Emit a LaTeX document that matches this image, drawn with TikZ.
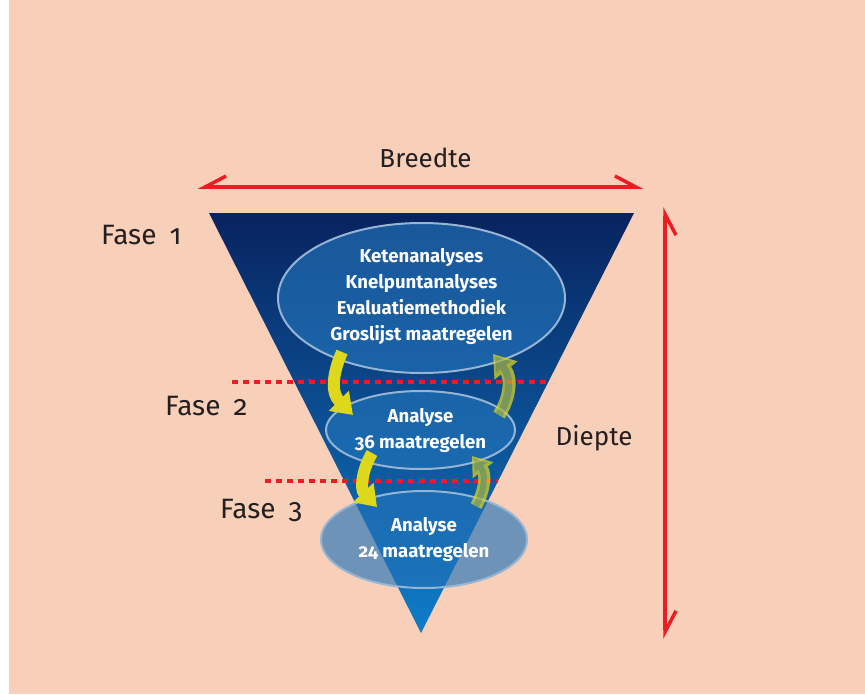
\documentclass[tikz,border=0pt]{standalone}
\usepackage{fontspec}
\setmainfont{Fira Sans}[Numbers=OldStyle]
\usepackage{tikz}
\usetikzlibrary{shapes.geometric,arrows.meta}

\definecolor{peach}{RGB}{248,207,184}
\definecolor{navy}{RGB}{8,35,95}
\definecolor{helder}{RGB}{15,125,200}
\definecolor{rood}{RGB}{237,28,36}
\definecolor{geel}{RGB}{222,216,28}
\definecolor{olijf}{RGB}{166,180,71}
\definecolor{rand}{RGB}{150,180,212}
\definecolor{vulling}{RGB}{35,115,185}
\definecolor{tekst}{RGB}{35,31,32}

\begin{document}
\begin{tikzpicture}[x=1pt, y=-1pt,
    fase/.style={anchor=base west, inner sep=0pt, text=tekst, font=\fontsize{28}{33}\selectfont},
    maat/.style={anchor=base, inner sep=0pt, text=tekst, font=\fontsize{26}{31}\selectfont},
    ovaal/.style={ellipse, draw=rand, line width=2pt, fill=vulling, fill opacity=0.65, text opacity=1,
        text=white, inner sep=0pt, align=center, font=\bfseries\fontsize{18.6}{26}\selectfont},
    stip/.style={rood, line width=4pt, dash pattern=on 6pt off 5pt},
    meetlijn/.style={rood, line width=3.5pt,
        {Straight Barb[harpoon,swap,length=21pt,width=22pt]}-{Straight Barb[harpoon,length=21pt,width=22pt]}},
    neer/.style={geel, line width=12pt, -{Triangle[width=27pt,length=20pt]}}]

    \useasboundingbox (0,0) rectangle (865,694);
    \fill[white] (0,0) rectangle (865,694);
    \fill[peach] (9,0) rectangle (865,694);

    % trechter
    \coordinate (TL) at (209,213);
    \coordinate (TR) at (634,213);
    \coordinate (TP) at (421,633);
    \shade[top color=navy, bottom color=helder] (TL) -- (TR) -- (TP) -- cycle;

    \node[ovaal, minimum width=287pt, minimum height=150pt] (E1) at (421.5,298)
        {Ketenanalyses\\Knelpuntanalyses\\Evaluatiemethodiek\\Groslijst maatregelen\vspace{4pt}};
    \node[ovaal, minimum width=189pt, minimum height=78pt] (E2) at (420.5,430)
        {Analyse\\36 maatregelen};
    \node[ovaal, minimum width=206pt, minimum height=97pt] (E3) at (424,539.5)
        {Analyse\\24 maatregelen};

    % fasegrenzen
    \coordinate (S1a) at (232,382);
    \coordinate (S1b) at (549,382);
    \coordinate (S2a) at (265,481);
    \coordinate (S2b) at (498,481);
    \draw[stip] (S1a) -- (S1b);
    \draw[stip] (S2a) -- (S2b);

    % pijlen omlaag
    \coordinate (N1a) at (342,352);
    \coordinate (N1b) at (353,415);
    \coordinate (N2a) at (372,453);
    \coordinate (N2b) at (377,507);
    \draw[neer] (N1a) .. controls (332,375) and (331,393) .. (N1b);
    \draw[neer] (N2a) .. controls (362,470) and (360,489) .. (N2b);

    % pijlen omhoog
    \coordinate (O1a) at (499,415);
    \coordinate (O1b) at (493,354);
    \coordinate (O2a) at (476,506);
    \coordinate (O2b) at (472,456);
    \begin{scope}[transparency group, opacity=0.72]
        \draw[geel, line width=13pt, -{Triangle[width=28pt,length=21pt]}] (O1a) .. controls (510,398) and (512,378) .. (O1b);
        \draw[olijf, line width=7pt, shorten >=3.5pt, -{Triangle[width=18pt,length=13pt]}] (O1a) .. controls (510,398) and (512,378) .. (O1b);
        \draw[geel, line width=12pt, -{Triangle[width=25pt,length=18pt]}] (O2a) .. controls (485,490) and (486,474) .. (O2b);
        \draw[olijf, line width=6pt, shorten >=3.5pt, -{Triangle[width=15pt,length=11pt]}] (O2a) .. controls (485,490) and (486,474) .. (O2b);
    \end{scope}

    % breedte en diepte
    \coordinate (BL) at (198,187);
    \coordinate (BR) at (643,187);
    \coordinate (DT) at (665,207);
    \coordinate (DB) at (665,639);
    \draw[meetlijn] (BL) -- (BR);
    \draw[meetlijn] (DT) -- (DB);
    \node[maat] (breedte) at (425.5,167) {Breedte};
    \node[maat] (diepte) at (594,445) {Diepte};

    \foreach \n/\x/\y in {1/101/244, 2/165/415, 3/220/518} {
        \node[fase] (F\n) at (\x,\y) {Fase\hspace{13pt}\n};
    }
\end{tikzpicture}
\end{document}
